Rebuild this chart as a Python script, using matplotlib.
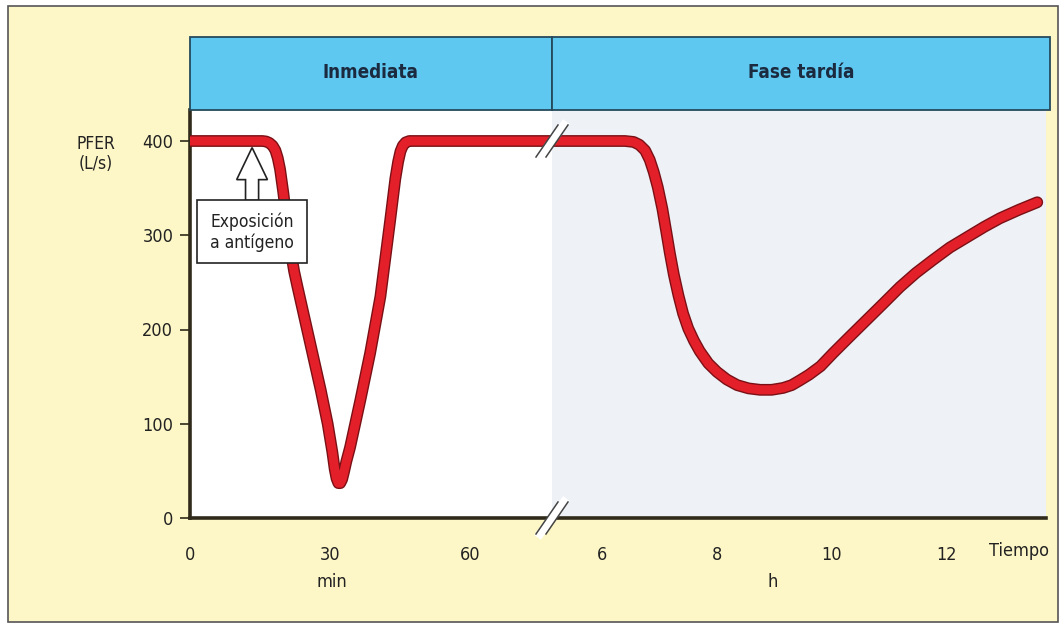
import numpy as np
import matplotlib
matplotlib.use('Agg')
import matplotlib.pyplot as plt
import matplotlib.patheffects as pe
from matplotlib.patches import Rectangle, FancyArrow

plt.rcParams['font.family'] = ['DejaVu Sans']
plt.rcParams['font.stretch'] = 'condensed'

# data
min_x = [0, 15.5, 16.3, 17, 17.7, 18.3, 18.8, 19.3, 20, 21, 21.6, 22.3, 23, 24, 26, 28,
         29.5, 30.5, 31.0, 31.4, 31.8, 32.2, 32.6, 33.0, 33.5, 34.3, 36.5, 38.6, 40.8,
         42.9, 44, 44.6, 45.1, 45.6, 46.2, 47, 78]
min_y = [400, 400, 399.5, 398, 395, 390, 382, 370, 345, 305, 283, 262, 246, 224, 180, 136,
         100, 70, 52, 42, 37, 37, 41, 49, 60, 75, 125, 175, 235,
         316, 360, 378, 389, 395, 398.5, 400, 400]
hour_x = [5.0, 6.4, 6.55, 6.65, 6.75, 6.83, 6.9, 6.97, 7.05, 7.12, 7.18, 7.25, 7.33, 7.41,
          7.5, 7.6, 7.7, 7.85, 8.0, 8.17, 8.35, 8.55, 8.75, 8.95, 9.15, 9.3, 9.44, 9.6,
          9.8, 10.02, 10.3, 10.6, 10.9, 11.18, 11.46, 11.76, 12.05, 12.35, 12.65, 12.92,
          13.25, 13.57]
hour_y = [400, 400, 399, 396, 390, 380, 367, 351, 328, 303, 281, 258, 236, 217,
          201, 188, 177, 164, 155, 147, 141, 137.5, 136, 136, 138, 141, 146, 152,
          161, 175, 192, 210, 228, 245, 260, 274, 287, 298, 309, 318,
          327, 335]
min_ticks = [0, 30, 60]
hour_ticks = [6, 8, 10, 12]
y_ticks = [0, 100, 200, 300, 400]
phases = ['Inmediata', 'Fase tardía']

yellow = '#fdf6c6'
blue = '#5ec8f1'
red = '#e3202a'
dark = '#2f2a1a'
grey_bg = '#eef1f6'

W, H = 1060, 628
fig = plt.figure(figsize=(W / 100, H / 100), dpi=100)
fig.patch.set_facecolor('white')
fig.patches.append(Rectangle((8 / W, 1 - 622 / H), 1050 / W, 616 / H, transform=fig.transFigure,
                             facecolor=yellow, edgecolor='#555555', lw=1.2, zorder=-5))

def fx(px):
    return px / W

def fy(py):
    return 1 - py / H

x0, xb, x1 = 190, 552, 1046
ytop, ybot = 110, 518
ax1 = fig.add_axes([fx(x0), fy(ybot), fx(xb - x0), fy(ytop) - fy(ybot)])
ax2 = fig.add_axes([fx(xb), fy(ybot), fx(x1 - xb), fy(ytop) - fy(ybot)])

ylim = (0, (ybot - ytop) / ((ybot - 141) / 400))
stroke = [pe.Stroke(linewidth=8.5, foreground='#7a1015'), pe.Normal()]

ax1.set_facecolor('white')
ax1.plot(min_x, min_y, color=red, lw=6.5, solid_capstyle='round', solid_joinstyle='round',
         path_effects=stroke, zorder=3)
ax1.set_xlim(0, 60 * (xb - x0) / (470 - x0))
ax1.set_ylim(*ylim)
ax1.set_xticks(min_ticks)
ax1.set_yticks(y_ticks)
ax1.tick_params(axis='x', length=0, pad=20, labelsize=13, labelcolor='#222222')
ax1.tick_params(axis='y', length=7, width=1.2, direction='out', pad=5, labelsize=13,
                labelcolor='#222222', color=dark)
for s in ['top', 'right']:
    ax1.spines[s].set_visible(False)
for s in ['left', 'bottom']:
    ax1.spines[s].set_linewidth(2.6)
    ax1.spines[s].set_color(dark)

ppu = 57.5
ax2.set_facecolor(grey_bg)
ax2.plot(hour_x, hour_y, color=red, lw=6.5, solid_capstyle='round', solid_joinstyle='round',
         path_effects=stroke, zorder=3)
ax2.set_xlim(6 - (602 - xb) / ppu, 6 + (x1 - 602) / ppu)
ax2.set_ylim(*ylim)
ax2.set_xticks(hour_ticks)
ax2.set_yticks([])
ax2.tick_params(axis='x', length=0, pad=20, labelsize=13, labelcolor='#222222')
for s in ['top', 'right', 'left']:
    ax2.spines[s].set_visible(False)
ax2.spines['bottom'].set_linewidth(2.6)
ax2.spines['bottom'].set_color(dark)

# header bands
for (a, b), name in zip([(x0, xb), (xb, 1050)], phases):
    fig.patches.append(Rectangle((fx(a), fy(ytop)), fx(b - a), fy(37) - fy(ytop),
                                 transform=fig.transFigure, facecolor=blue,
                                 edgecolor='#244a5c', lw=1.3, zorder=2))
    fig.text(fx((a + b) / 2), fy(73), name, ha='center', va='center', fontsize=13.5,
             fontweight='bold', color='#1b2a3e')

# axis labels
fig.text(fx(96), fy(154), 'PFER\n(L/s)', ha='center', va='center', fontsize=12.5,
         color='#222222', linespacing=1.1)
fig.text(fx(332), fy(582), 'min', ha='center', va='center', fontsize=13, color='#222222')
fig.text(fx(773), fy(582), 'h', ha='center', va='center', fontsize=13, color='#222222')
fig.text(fx(1019), fy(551), 'Tiempo', ha='center', va='center', fontsize=13, color='#222222')

# exposure annotation: hollow arrow from the box up to the curve
ax1.add_patch(FancyArrow(13.3, 337, 0, 393 - 337, width=2.8, head_width=6.6,
                         head_length=34, length_includes_head=True,
                         facecolor='white', edgecolor='#222222', lw=1.2, zorder=5))
fig.patches.append(Rectangle((fx(197), fy(263)), fx(110), fy(200) - fy(263),
                             transform=fig.transFigure, facecolor='white',
                             edgecolor='#222222', lw=1.2, zorder=6))
fig.text(fx(252), fy(232), 'Exposición\na antígeno', ha='center', va='center', fontsize=12.5,
         color='#222222', linespacing=1.15, zorder=7)

# axis break marks
for yc in [141, 518]:
    xs = [fx(xb - 12), fx(xb + 12)]
    ys = [fy(yc + 16), fy(yc - 16)]
    fig.add_artist(plt.Line2D(xs, ys, transform=fig.transFigure, color='white', lw=6, zorder=10))
    for dx in [-5, 5]:
        xs = [fx(xb + dx - 11), fx(xb + dx + 11)]
        fig.add_artist(plt.Line2D(xs, ys, transform=fig.transFigure, color='#444444', lw=1.1, zorder=11))

fig.savefig('out.png', dpi=100, facecolor=fig.get_facecolor())
